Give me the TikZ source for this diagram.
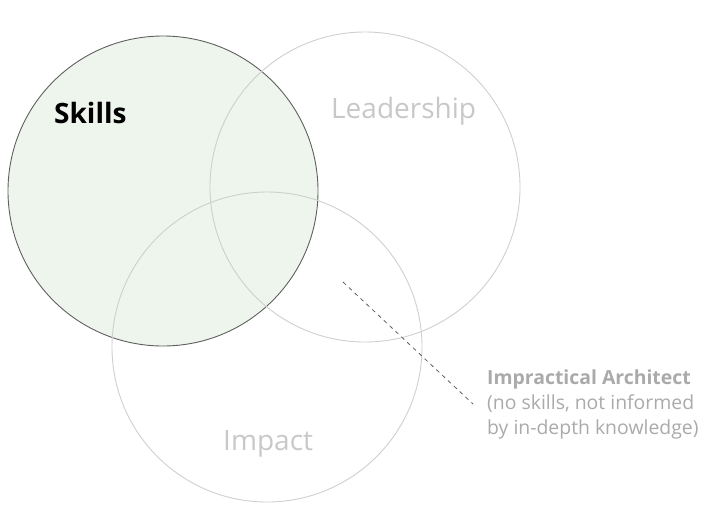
\documentclass[tikz,border=0pt]{standalone}
\usepackage{fontspec}
\setmainfont{Open Sans}
\usepackage{tikz}
\usetikzlibrary{positioning}
\definecolor{SkFill}{RGB}{237,245,236}
\definecolor{SkLine}{RGB}{95,95,95}
\definecolor{RingLine}{RGB}{207,207,207}
\definecolor{RingText}{RGB}{200,200,200}
\definecolor{NoteText}{RGB}{170,170,170}

\begin{document}
\begin{tikzpicture}[
  x=1pt, y=-1pt,
  ring/.style={circle, draw=RingLine, line width=0.9pt, minimum size=310pt, inner sep=0pt},
  title/.style={font=\fontsize{28}{32}\selectfont, anchor=base west, inner sep=0pt},
  note/.style={font=\fontsize{19.4}{25}\selectfont, text=NoteText, align=left, anchor=north west, inner sep=0pt},
]
  \useasboundingbox (0,0) rectangle (708,512);

  % circles
  \node[ring, fill=SkFill, draw=SkLine] (skills) at (163,191) {};
  \node[ring] (lead) at (365,187) {};
  \node[ring] (impact) at (267,347) {};

  % labels
  \node[title, font=\fontsize{28}{32}\selectfont\bfseries] (skillslab) at (54,123) {Skills};
  \node[title, text=RingText] (leadlab) at (331,118) {Leadership};
  \node[title, text=RingText] (impactlab) at (223,450) {Impact};

  % annotation
  \node[note] (arch) at (487,370) {\textbf{Impractical Architect}\\(no skills, not informed\\by in-depth knowledge)};
  \coordinate (spot) at (343,282);
  \coordinate (archend) at (473,404);
  \draw[SkLine, dashed, line width=0.8pt, dash pattern=on 4pt off 4pt] (spot) -- (archend);
\end{tikzpicture}
\end{document}
